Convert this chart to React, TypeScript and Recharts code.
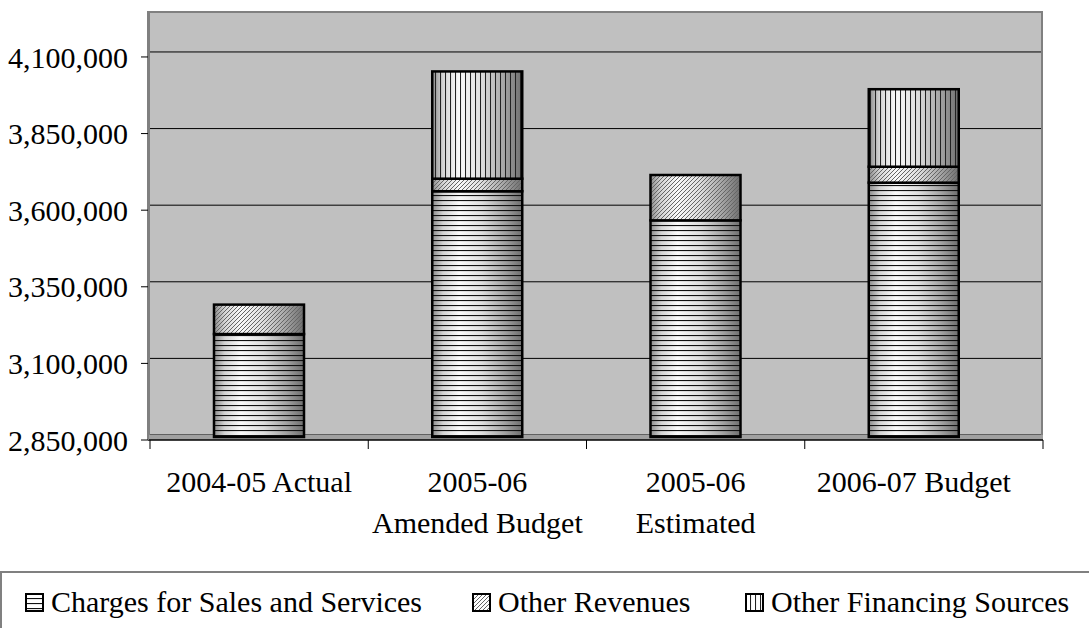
import { Bar, BarChart, CartesianGrid, XAxis, YAxis } from "recharts";

const categories = [
  "2004-05 Actual",
  "2005-06\nAmended Budget",
  "2005-06\nEstimated",
  "2006-07 Budget",
];
const charges = [3186000, 3652000, 3557000, 3680000];
const otherRevenues = [96000, 41000, 148000, 52000];
const otherFinancing = [0, 350000, 0, 253000];
const yTicks = [2850000, 3100000, 3350000, 3600000, 3850000, 4100000];
const yDomain = [2850000, 4250000];

const seriesNames = ["Charges for Sales and Services", "Other Revenues", "Other Financing Sources"];

const data = categories.map((c, i) => ({
  name: c,
  charges: charges[i],
  other: otherRevenues[i],
  financing: otherFinancing[i],
}));

const FONT = '"Liberation Serif", "Times New Roman", serif';
const W = 1089;
const H = 628;
const M = { top: 11, right: 46, bottom: 0, left: 0 };
const Y_W = 148;
const PAD_L = 2;
const PAD_R = 20;
const BAND = (W - M.right - Y_W - PAD_L - PAD_R) / categories.length;
const DEPTH = 3; // bars sit a bit behind the front axis
const WALL = 5; // back wall gridlines offset

// y position of a value, using the axis scale when the grid gets one
function yPos(yAxis: any, offset: any, v: number) {
  if (yAxis && typeof yAxis.scale === "function") return yAxis.scale(v);
  const [lo, hi] = yDomain;
  return offset.top + (offset.height * (hi - v)) / (hi - lo);
}

function makeShape(pattern: string) {
  return (props: any) => {
    const { x, y, width, height, background } = props;
    if (!height || height <= 0.5) return <g />;
    const top = y - DEPTH;
    let bottom = y + height - DEPTH;
    if (background && typeof background.y === "number") {
      bottom = Math.min(bottom, background.y + background.height - DEPTH);
    }
    const h = bottom - top;
    if (h <= 0) return <g />;
    return (
      <g>
        <rect x={x} y={top} width={width} height={h} fill="url(#cyl)" />
        <rect x={x} y={top} width={width} height={h} fill={`url(#${pattern})`} />
        <rect x={x} y={top} width={width} height={h} fill="none" stroke="#000" strokeWidth={2.5} />
      </g>
    );
  };
}

function CategoryTick(props: any) {
  const { x, y, payload, index } = props;
  const lines = String(payload.value).split("\n");
  return (
    <g>
      <line x1={x - BAND / 2} x2={x - BAND / 2} y1={y} y2={y + 9} stroke="#000" />
      {index === categories.length - 1 && (
        <line x1={x + BAND / 2 + PAD_R} x2={x + BAND / 2 + PAD_R} y1={y} y2={y + 9} stroke="#000" />
      )}
      <text x={x} y={y + 52} textAnchor="middle" fontFamily={FONT} fontSize={30} fill="#000">
        {lines.map((l, i) => (
          <tspan key={i} x={x} dy={i === 0 ? 0 : 41}>
            {l}
          </tspan>
        ))}
      </text>
    </g>
  );
}

const legendPatterns = ["hlines", "diag", "vlines"];
const legendLeft = [25, 472, 745];

function Patterns() {
  return (
    <defs>
      <linearGradient id="cyl" x1="0" y1="0" x2="1" y2="0">
        <stop offset="0%" stopColor="#8c8c8c" />
        <stop offset="12%" stopColor="#d4d4d4" />
        <stop offset="30%" stopColor="#fafafa" />
        <stop offset="55%" stopColor="#dedede" />
        <stop offset="80%" stopColor="#a4a4a4" />
        <stop offset="100%" stopColor="#6e6e6e" />
      </linearGradient>
      <pattern id="hlines" patternUnits="userSpaceOnUse" width="6" height="5">
        <line x1="0" y1="0.5" x2="6" y2="0.5" stroke="#111" strokeWidth="1.2" />
      </pattern>
      <pattern id="vlines" patternUnits="userSpaceOnUse" width="5" height="6">
        <line x1="0.5" y1="0" x2="0.5" y2="6" stroke="#222" strokeWidth="1.1" />
      </pattern>
      <pattern id="diag" patternUnits="userSpaceOnUse" width="4" height="4">
        <path d="M-1,1 l2,-2 M0,4 l4,-4 M3,5 l2,-2" stroke="#666" strokeWidth="1" />
      </pattern>
    </defs>
  );
}

export default function App() {
  return (
    <div style={{ position: "absolute", left: 0, top: 0, width: W, height: H, background: "#fff", overflow: "hidden" }}>
      <svg width="0" height="0" style={{ position: "absolute" }}>
        <Patterns />
      </svg>
      <BarChart width={W} height={H} data={data} margin={M} barSize={90}>
        <CartesianGrid
          vertical={false}
          fill="#c0c0c0"
          fillOpacity={1}
          stroke="#000"
          horizontalCoordinatesGenerator={({ yAxis, offset }: any) =>
            yTicks.map((t) => yPos(yAxis, offset, t) - WALL)
          }
        />
        <CartesianGrid
          stroke="#808080"
          strokeWidth={2}
          horizontalCoordinatesGenerator={({ offset }: any) => [offset.top + 1]}
          verticalCoordinatesGenerator={({ offset }: any) => [offset.left + 1, offset.left + offset.width - 1]}
        />
        <CartesianGrid
          vertical={false}
          stroke="#a0a0a0"
          strokeWidth={WALL}
          horizontalCoordinatesGenerator={({ yAxis, offset }: any) => [yPos(yAxis, offset, yDomain[0]) - WALL / 2]}
        />
        <XAxis
          dataKey="name"
          height={H - 440 - M.bottom}
          interval={0}
          tickLine={false}
          tickSize={0}
          tickMargin={0}
          padding={{ left: PAD_L, right: PAD_R }}
          axisLine={{ stroke: "#000", strokeWidth: 1.5 }}
          tick={<CategoryTick />}
        />
        <YAxis
          width={Y_W}
          domain={yDomain}
          ticks={yTicks}
          interval={0}
          allowDataOverflow
          tickSize={7}
          tickMargin={13}
          axisLine={{ stroke: "#808080", strokeWidth: 2 }}
          tickLine={{ stroke: "#000" }}
          tick={{ fontSize: 30, fontFamily: FONT, fill: "#000" }}
          tickFormatter={(v: number) => v.toLocaleString("en-US")}
        />
        <Bar dataKey="charges" name={seriesNames[0]} stackId="a" shape={makeShape("hlines")} isAnimationActive={false} />
        <Bar dataKey="other" name={seriesNames[1]} stackId="a" shape={makeShape("diag")} isAnimationActive={false} />
        <Bar dataKey="financing" name={seriesNames[2]} stackId="a" shape={makeShape("vlines")} isAnimationActive={false} />
      </BarChart>
      <div
        style={{
          position: "absolute",
          left: 0,
          top: 571,
          width: W + 10,
          height: 80,
          borderTop: "2px solid #808080",
          borderLeft: "2px solid #808080",
          boxSizing: "border-box",
        }}
      >
        {seriesNames.map((n, i) => (
          <div
            key={n}
            style={{
              position: "absolute",
              top: 12,
              left: legendLeft[i] - 2,
              height: 34,
              display: "flex",
              alignItems: "center",
              gap: 7,
              fontFamily: FONT,
              fontSize: 30,
              lineHeight: "34px",
              whiteSpace: "nowrap",
              color: "#000",
            }}
          >
            <svg width="19" height="19">
              <rect x="1" y="1" width="17" height="17" fill="#fff" />
              <rect x="1" y="1" width="17" height="17" fill={`url(#${legendPatterns[i]})`} />
              <rect x="1" y="1" width="17" height="17" fill="none" stroke="#000" strokeWidth="2" />
            </svg>
            <span>{n}</span>
          </div>
        ))}
      </div>
    </div>
  );
}
